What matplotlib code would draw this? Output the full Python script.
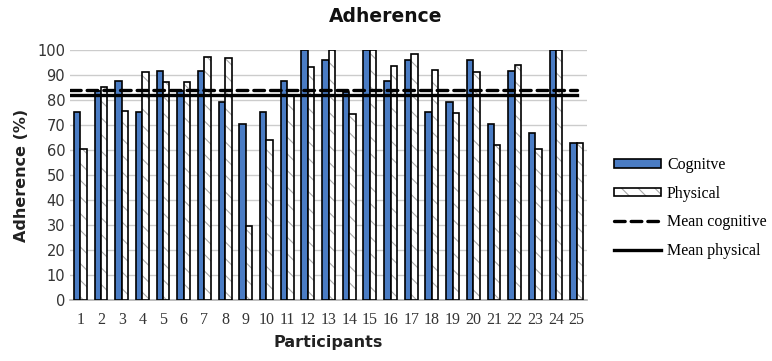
import matplotlib
matplotlib.use("Agg")
import matplotlib.pyplot as plt
from matplotlib.patches import Patch
from matplotlib.lines import Line2D
from matplotlib.legend_handler import HandlerTuple
import numpy as np

participants = [str(i) for i in range(1, 26)]
cognitive = [75, 83.5, 87.5, 75, 91.7, 83.5, 91.7, 79, 70.5, 75, 87.5, 100, 95.8, 83.3, 100,
             87.5, 95.8, 75, 79, 95.8, 70.5, 91.7, 66.7, 100, 62.9]
physical = [60.4, 85, 75.6, 91, 87.3, 87.3, 97.3, 96.7, 29.5, 64.1, 82, 93, 100, 74.2, 100,
            93.7, 98.4, 92, 74.8, 91, 62.1, 93.9, 60.3, 100, 62.9]
mean_cognitive = 83.9
mean_physical = 81.9

plt.rcParams['hatch.linewidth'] = 0.8

fig = plt.figure(figsize=(7.72, 3.61), dpi=100)
ax = fig.add_axes([70/772, 1 - 300/361, 517/772, 250/361])

x = np.arange(1, 26)
w = 0.31
blue = "#4a7cc4"
ax.bar(x - w/2, cognitive, width=w, color=blue, edgecolor="black", linewidth=1.2, zorder=3)
ax.bar(x + w/2, physical, width=w, color="white", edgecolor="#a8a8a8", linewidth=0,
       hatch="\\\\", zorder=3)
ax.bar(x + w/2, physical, width=w, fill=False, edgecolor="black", linewidth=1.2, zorder=3)
dash = (0, (3.2, 1.8))
ax.plot([0.5, 25], [mean_cognitive]*2, color="black", linestyle=dash, linewidth=2.4,
        dash_capstyle="round", zorder=4)
ax.plot([0.5, 25], [mean_physical]*2, color="black", linestyle="-", linewidth=2.4, zorder=4)

ax.set_xlim(0.5, 25.5)
ax.set_ylim(0, 100)
ax.set_yticks(range(0, 101, 10))
ax.set_xticks(x)
ax.set_xticklabels(participants, fontfamily="Liberation Serif", fontsize=11.5)
ax.tick_params(axis="both", length=0, colors="#333333")
ax.tick_params(axis="y", labelsize=10.5)
ax.tick_params(axis="x", pad=9)
ax.grid(axis="y", color="#cccccc", linewidth=1, zorder=0)
for s in ["top", "right", "left"]:
    ax.spines[s].set_visible(False)
ax.spines["bottom"].set_color("#b0b0b0")
ax.spines["bottom"].set_linewidth(1.2)

ax.set_xlabel("Participants", fontsize=11.5, fontweight="bold", labelpad=5, color="#222222")
ax.set_ylabel("Adherence (%)", fontsize=11.5, fontweight="bold", labelpad=6, color="#222222")
fig.text(0.5, 1 - 16/361, "Adherence", ha="center", va="center", fontsize=13.5,
         fontweight="bold", color="#111111")

h_cog = Patch(facecolor=blue, edgecolor="black", linewidth=1.2)
h_phys = (Patch(facecolor="white", edgecolor="#a8a8a8", linewidth=0, hatch="\\\\"),
          Patch(fill=False, edgecolor="black", linewidth=1.2))
h_mc = Line2D([], [], color="black", linestyle=dash, linewidth=2.4, dash_capstyle="round")
h_mp = Line2D([], [], color="black", linestyle="-", linewidth=2.4)

leg = fig.legend([h_cog, h_phys, h_mc, h_mp],
                 ["Cognitve", "Physical", "Mean cognitive", "Mean physical"],
                 handler_map={tuple: HandlerTuple(ndivide=1)},
                 loc="upper left", bbox_to_anchor=(600/772, 1 - 143/361), frameon=False,
                 prop={"family": "Liberation Serif", "size": 11.5}, handlelength=2.9,
                 handleheight=0.45, labelspacing=0.78, handletextpad=0.4)

fig.savefig("out.png", dpi=100)
